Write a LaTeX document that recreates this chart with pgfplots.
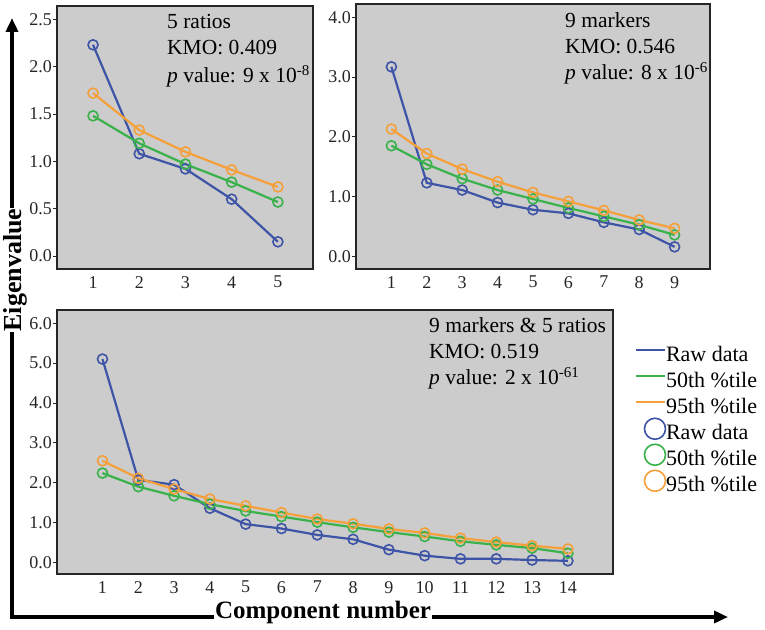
\documentclass[border=0pt]{standalone}
\usepackage{pgfplots}
\pgfplotsset{compat=1.18}
\usepackage{fontspec}
\setmainfont{Liberation Serif}
\usetikzlibrary{arrows.meta}

\definecolor{rawc}{RGB}{62,84,166}
\definecolor{midc}{RGB}{58,178,76}
\definecolor{hic}{RGB}{245,160,58}
\definecolor{bgc}{RGB}{204,204,204}

\pgfplotsset{
  scree/.style={
    scale only axis,
    anchor=south west,
    axis background/.style={fill=bgc},
    axis line style={draw=black!85, line width=1.2pt},
    tick align=outside,
    xtick pos=bottom, ytick pos=left,
    major tick length=4pt,
    xtick style={draw=none},
    ytick style={draw=black!85, line width=0.8pt},
    ticklabel style={font=\fontsize{18}{18}\selectfont, text=black!85},
    yticklabel style={inner xsep=1pt, /pgf/number format/.cd, fixed, fixed zerofill, precision=1},
    xticklabel style={inner ysep=3pt},
    /pgf/number format/assume math mode=true,
    clip=false,
  },
  ser/.style={line width=2.2pt, mark=o, mark size=5pt, mark options={line width=1.6pt, solid}},
  % legend icons keep a fixed box so every row has the same height
  lineleg/.style={legend image code/.code={
    \path[draw=none, fill=none] (0pt,0pt) rectangle (29pt,12pt);
    \draw[##1, overlay] (0pt,6pt) -- (29pt,6pt);}},
  circleg/.style={legend image code/.code={
    \path[draw=none, fill=none] (0pt,0pt) rectangle (29pt,12pt);
    \draw[##1, overlay] (19pt,5.5pt) circle (10.5pt);}},
}

\newcommand{\ann}{\fontsize{21.5}{21.5}\selectfont}

\begin{document}
\begin{tikzpicture}
\useasboundingbox (0,0) rectangle (765pt,629pt);

% 5 ratios
\begin{axis}[scree, at={(57pt,360pt)}, width=256pt, height=263pt,
  xmin=0.22, xmax=5.76, ymin=-0.137, ymax=2.64,
  xtick={1,2,3,4,5}, ytick={0,0.5,1,1.5,2,2.5}]
\addplot[rawc, ser] coordinates {(1,2.23)(2,1.08)(3,0.92)(4,0.60)(5,0.15)};
\addplot[midc, ser] coordinates {(1,1.48)(2,1.19)(3,0.97)(4,0.78)(5,0.57)};
\addplot[hic, ser] coordinates {(1,1.72)(2,1.33)(3,1.10)(4,0.91)(5,0.73)};
\end{axis}

% 9 markers
\begin{axis}[scree, at={(356pt,360pt)}, width=354pt, height=265pt,
  xmin=0, xmax=10, ymin=-0.21, ymax=4.22,
  xtick={1,...,9}, ytick={0,1,2,3,4}]
\addplot[rawc, ser] coordinates {(1,3.17)(2,1.23)(3,1.11)(4,0.90)(5,0.78)(6,0.72)(7,0.57)(8,0.45)(9,0.16)};
\addplot[midc, ser] coordinates {(1,1.85)(2,1.54)(3,1.30)(4,1.11)(5,0.96)(6,0.81)(7,0.67)(8,0.53)(9,0.36)};
\addplot[hic, ser] coordinates {(1,2.13)(2,1.72)(3,1.46)(4,1.25)(5,1.07)(6,0.92)(7,0.77)(8,0.61)(9,0.47)};
\end{axis}

% 9 markers & 5 ratios
\begin{axis}[scree, at={(57pt,55pt)}, width=556pt, height=264pt,
  xmin=-0.27, xmax=15.26, ymin=-0.29, ymax=6.33,
  xtick={1,...,14}, ytick={0,1,2,3,4,5,6},
  legend style={at={(1.041,0.871)}, anchor=north west, draw=none, fill=none,
    font=\fontsize{22}{22}\selectfont, row sep=3pt, column sep=1pt,
    inner sep=0pt, nodes={inner sep=0pt, text height=16pt, text depth=6pt}},
  legend cell align=left]
\addplot[rawc, ser, forget plot] coordinates {(1,5.10)(2,2.07)(3,1.95)(4,1.36)(5,0.96)(6,0.85)(7,0.69)(8,0.58)(9,0.32)(10,0.17)(11,0.09)(12,0.09)(13,0.06)(14,0.04)};
\addplot[midc, ser, forget plot] coordinates {(1,2.24)(2,1.90)(3,1.67)(4,1.46)(5,1.29)(6,1.15)(7,1.01)(8,0.88)(9,0.76)(10,0.65)(11,0.53)(12,0.44)(13,0.36)(14,0.23)};
\addplot[hic, ser, forget plot] coordinates {(1,2.55)(2,2.11)(3,1.84)(4,1.59)(5,1.42)(6,1.25)(7,1.09)(8,0.97)(9,0.84)(10,0.74)(11,0.61)(12,0.51)(13,0.42)(14,0.34)};
\addlegendimage{draw=rawc, line width=2pt, lineleg}
\addlegendentry{Raw data}
\addlegendimage{draw=midc, line width=2pt, lineleg}
\addlegendentry{50th \%tile}
\addlegendimage{draw=hic, line width=2pt, lineleg}
\addlegendentry{95th \%tile}
\addlegendimage{draw=rawc, line width=1.6pt, circleg}
\addlegendentry{Raw data}
\addlegendimage{draw=midc, line width=1.6pt, circleg}
\addlegendentry{50th \%tile}
\addlegendimage{draw=hic, line width=1.6pt, circleg}
\addlegendentry{95th \%tile}
\end{axis}

% panel notes
\node[anchor=base west, inner sep=0pt, font=\ann] at (167pt,600pt) {5 ratios};
\node[anchor=base west, inner sep=0pt, font=\ann] at (167pt,574pt) {KMO: 0.409};
\node[anchor=base west, inner sep=0pt, font=\ann] at (167pt,546pt) {\textit{p} value: 9 x 10\textsuperscript{-8}};
\node[anchor=base west, inner sep=0pt, font=\ann] at (565pt,601pt) {9 markers};
\node[anchor=base west, inner sep=0pt, font=\ann] at (565pt,575pt) {KMO: 0.546};
\node[anchor=base west, inner sep=0pt, font=\ann] at (565pt,549pt) {\textit{p} value: 8 x 10\textsuperscript{-6}};
\node[anchor=base west, inner sep=0pt, font=\ann] at (429pt,296pt) {9 markers \& 5 ratios};
\node[anchor=base west, inner sep=0pt, font=\ann] at (429pt,270pt) {KMO: 0.519};
\node[anchor=base west, inner sep=0pt, font=\ann] at (429pt,244pt) {\textit{p} value: 2 x 10\textsuperscript{-61}};

% outer arrows and labels
\draw[line width=4.5pt, {Triangle[length=14pt,width=12pt]}-{Triangle[length=14pt,width=12pt]}]
  (12pt,611pt) -- (12pt,12pt) -- (728pt,12pt);
\node[rotate=90, fill=white, inner sep=1pt, font=\fontsize{26}{26}\selectfont\bfseries] at (15pt,359pt) {Eigenvalue};
\node[anchor=base, fill=white, inner sep=1pt, font=\fontsize{25}{25}\selectfont\bfseries] at (323pt,11pt) {Component number};
\end{tikzpicture}
\end{document}
